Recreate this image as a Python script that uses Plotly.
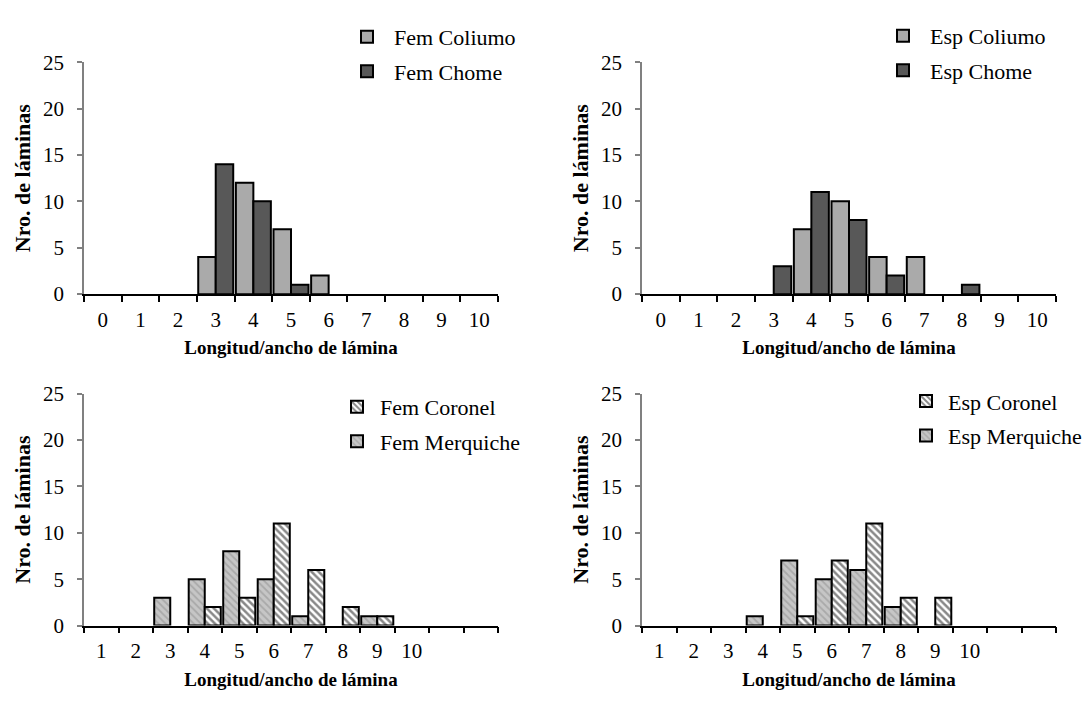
import plotly.graph_objects as go

# ---------------- data ----------------
cats_top = ["0", "1", "2", "3", "4", "5", "6", "7", "8", "9", "10"]
fem_coliumo = [0, 0, 0, 4, 12, 7, 2, 0, 0, 0, 0]
fem_chome = [0, 0, 0, 14, 10, 1, 0, 0, 0, 0, 0]
esp_coliumo = [0, 0, 0, 0, 7, 10, 4, 4, 0, 0, 0]
esp_chome = [0, 0, 0, 3, 11, 8, 2, 0, 1, 0, 0]

cats_bottom = ["1", "2", "3", "4", "5", "6", "7", "8", "9", "10", " ", "  "]
fem_merquiche = [0, 0, 3, 5, 8, 5, 1, 0, 1, 0, 0, 0]
fem_coronel = [0, 0, 0, 2, 3, 11, 6, 2, 1, 0, 0, 0]
esp_merquiche = [0, 0, 0, 1, 7, 5, 6, 2, 0, 0, 0, 0]
esp_coronel = [0, 0, 0, 0, 1, 7, 11, 3, 3, 0, 0, 0]

y_ticks = [0, 5, 10, 15, 20, 25]
x_title = "Longitud/ancho de lámina"
y_title = "Nro. de láminas"

# ---------------- styles ----------------
FONT = "Liberation Serif"
LIGHT = "#AAAAAA"
DARK = "#585858"
W, H = 1089, 710

line = dict(color="black", width=2)
pat_coronel = dict(shape="\\", bgcolor="white", fgcolor="#111111", size=5, solidity=0.5)
pat_merq = dict(shape="\\", bgcolor="#C6C6C6", fgcolor="#8C8C8C", size=5, solidity=0.35)

fig = go.Figure()

def add_bar(x, y, name, ax, legend, rank, color=None, pattern=None):
    marker = dict(line=line)
    if color:
        marker["color"] = color
    if pattern:
        marker["color"] = pattern["bgcolor"]
        marker["pattern"] = pattern
    yy = [v if v else None for v in y]  # empty classes draw nothing
    fig.add_trace(go.Bar(x=x, y=yy, name=name, marker=marker,
                         xaxis="x" + ax, yaxis="y" + ax,
                         legend=legend, legendgroup=name, legendrank=rank))

add_bar(cats_top, fem_coliumo, "Fem Coliumo", "", "legend", 1, color=LIGHT)
add_bar(cats_top, fem_chome, "Fem Chome", "", "legend", 2, color=DARK)
add_bar(cats_top, esp_coliumo, "Esp Coliumo", "2", "legend2", 1, color=LIGHT)
add_bar(cats_top, esp_chome, "Esp Chome", "2", "legend2", 2, color=DARK)
add_bar(cats_bottom, fem_merquiche, "Fem Merquiche", "3", "legend3", 2, pattern=pat_merq)
add_bar(cats_bottom, fem_coronel, "Fem Coronel", "3", "legend3", 1, pattern=pat_coronel)
add_bar(cats_bottom, esp_merquiche, "Esp Merquiche", "4", "legend4", 2, pattern=pat_merq)
add_bar(cats_bottom, esp_coronel, "Esp Coronel", "4", "legend4", 1, pattern=pat_coronel)

def px_x(v):
    return v / W

def px_y(v):
    return 1 - v / H

left_dom = [px_x(84), px_x(498)]
right_dom = [px_x(642), px_x(1056)]
top_dom = [px_y(292), px_y(52)]
bot_dom = [px_y(635), px_y(395)]

def xaxis(dom, anchor, cats):
    return dict(domain=dom, anchor=anchor, type="category",
                categoryorder="array", categoryarray=cats,
                range=[-0.5, len(cats) - 0.5],
                tickson="boundaries", ticks="outside", ticklen=6, tickwidth=1.5,
                tickcolor="black", showline=True, linecolor="black", linewidth=1.5,
                showgrid=False, zeroline=False, ticklabelstandoff=6,
                tickfont=dict(family=FONT, size=21, color="black"),
                title=dict(text="<b>" + x_title + "</b>", standoff=10,
                           font=dict(family=FONT, size=19, color="black")))

def yaxis(dom, anchor):
    return dict(domain=dom, anchor=anchor, range=[0, 25], tickvals=y_ticks,
                ticks="outside", ticklen=5, tickwidth=1.5, tickcolor="#808080",
                showline=True, linecolor="#808080", linewidth=1.5,
                showgrid=False, zeroline=False, ticklabelstandoff=9,
                tickfont=dict(family=FONT, size=21, color="black"),
                title=dict(text="<b>" + y_title + "</b>", standoff=6,
                           font=dict(family=FONT, size=22, color="black")))

def legend(xpx, ypx, iw):
    return dict(x=px_x(xpx), y=px_y(ypx), xanchor="left", yanchor="top",
                bgcolor="rgba(0,0,0,0)", borderwidth=0, itemwidth=iw,
                font=dict(family=FONT, size=22, color="black"),
                tracegroupgap=3)

fig.update_layout(
    width=W, height=H, margin=dict(l=0, r=0, t=0, b=0),
    paper_bgcolor="white", plot_bgcolor="white",
    barmode="group", bargap=0.07, bargroupgap=0.0,
    font=dict(family=FONT, color="black"),
    xaxis=xaxis(left_dom, "y", cats_top),
    yaxis=yaxis(top_dom, "x"),
    xaxis2=xaxis(right_dom, "y2", cats_top),
    yaxis2=yaxis(top_dom, "x2"),
    xaxis3=xaxis(left_dom, "y3", cats_bottom),
    yaxis3=yaxis(bot_dom, "x3"),
    xaxis4=xaxis(right_dom, "y4", cats_bottom),
    yaxis4=yaxis(bot_dom, "x4"),
    legend=legend(340, 4, 44),
    legend2=legend(876, 3, 44),
    legend3=legend(334, 387, 36),
    legend4=legend(904, 381, 34),
    showlegend=True,
)

fig.write_html("out.html")
